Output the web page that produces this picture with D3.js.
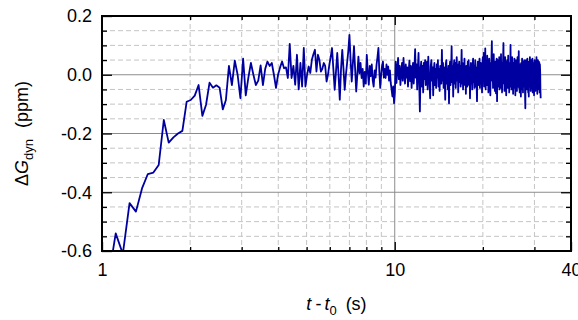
<!DOCTYPE html>
<html>
<head>
<meta charset="utf-8">
<script src="https://cdn.jsdelivr.net/npm/d3@7"></script>
<style>
  body { margin: 0; background: #fff; }
  text { font-family: "Liberation Sans", Arial, sans-serif; }
</style>
</head>
<body>
<script>
// signal: uniformly sampled, first sample time and step (s)
var firstSample = 1.05,
    sampleStep = 0.064;

// delta G dyn (ppm), one value per sample
var deltaG = [
  -0.700,-0.540,-0.610,-0.437,-0.466,-0.387,-0.338,-0.333,-0.307,-0.154,
  -0.231,-0.213,-0.200,-0.191,-0.092,-0.086,-0.071,-0.035,-0.140,-0.103,
  -0.027,-0.044,-0.036,-0.044,-0.118,-0.086, 0.030,-0.035, 0.048, 0.000,
  -0.080, 0.055,-0.070,-0.010, 0.040, 0.000,-0.035,-0.020, 0.032,-0.035,
   0.020, 0.045, 0.030, 0.040, 0.000,-0.045, 0.000, 0.025, 0.045, 0.022,
   0.025,-0.011, 0.105,-0.011, 0.030,-0.034, 0.068,-0.050, 0.040,-0.040,
   0.091,-0.040, 0.000, 0.028, 0.006, 0.051, 0.070, 0.085, 0.011, 0.068,
   0.050, 0.011, 0.020, 0.040, 0.030,-0.023, 0.000, 0.034, 0.060, 0.091,
   0.020,-0.051, 0.010, 0.074, 0.000,-0.085, 0.020, 0.085, 0.020,-0.051,
   0.000, 0.040, 0.080, 0.136, 0.050,-0.023, 0.040, 0.097, 0.020,-0.057,
   0.000, 0.062, 0.005, 0.040,-0.011, 0.020,-0.040, 0.010,-0.030, 0.068,
   0.010,-0.034, 0.030,-0.005, 0.035,-0.020,-0.040, 0.015,-0.010, 0.034,
   0.060, 0.091, 0.010,-0.045, 0.000, 0.030, 0.045,-0.010, 0.020,-0.011,
   0.035, 0.000, 0.028,-0.020, 0.015,-0.028,-0.050,-0.074,-0.040,-0.097,
  -0.060, 0.045,-0.028, 0.020, 0.057,-0.015, 0.030,-0.035, 0.010, 0.040,
  -0.020, 0.057, 0.005,-0.030, 0.035,-0.010, 0.025,-0.040, 0.015, 0.048,
  -0.022, 0.030,-0.045, 0.010, 0.040,-0.030, 0.020, 0.087,-0.010, 0.035,
  -0.050, 0.020, 0.074,-0.030,-0.125, 0.020, 0.045,-0.040, 0.030,-0.060,
   0.040,-0.015, 0.050,-0.035, 0.010, 0.045,-0.050, 0.062, 0.000,-0.030,
  -0.080, 0.030, 0.050,-0.020, 0.025,-0.070, 0.015, 0.040,-0.035, 0.020,
  -0.045, 0.035,-0.010, 0.050,-0.040, 0.020,-0.055, 0.030, 0.010,-0.030,
   0.085,-0.020, 0.040,-0.045, 0.025,-0.010,-0.085, 0.035, 0.050,-0.030,
   0.020,-0.050, 0.030,-0.097, 0.020, 0.045,-0.035, 0.010, 0.097,-0.025,
   0.030,-0.074, 0.025, 0.050,-0.030, 0.040,-0.045, 0.015, 0.060,-0.020,
   0.035,-0.060, 0.020, 0.045,-0.025, 0.030,-0.040, 0.010, 0.085,-0.030,
   0.040,-0.050, 0.025,-0.010, 0.055,-0.035, 0.020,-0.065, 0.030, 0.010,
  -0.040, 0.045,-0.020, 0.050,-0.035, 0.025,-0.080, 0.015, 0.040,-0.030,
   0.020,-0.050, 0.035, 0.055,-0.025, 0.030,-0.045, 0.010, 0.050,-0.040,
   0.025,-0.030,-0.090, 0.020, 0.045,-0.035, 0.030,-0.020, 0.055,-0.045,
   0.015, 0.040,-0.030, 0.025,-0.060, 0.035, 0.060,-0.020, 0.074,-0.040,
   0.030,-0.015, 0.090,-0.050, 0.040, 0.010,-0.035, 0.065,-0.025, 0.045,
  -0.060, 0.030, 0.055,-0.030, 0.020,-0.070, 0.040, 0.010, 0.060, 0.114,
  -0.020, 0.050,-0.045, 0.030, 0.070,-0.035, 0.025,-0.055, 0.045, 0.000,
  -0.063, 0.030, 0.055,-0.090, 0.020, 0.050,-0.040, 0.035,-0.020, 0.060,
  -0.050, 0.025, 0.045,-0.030, 0.070,-0.045, 0.020,-0.060, 0.040, 0.010,
   0.055, 0.108,-0.030, 0.040,-0.055, 0.025, 0.060,-0.035, 0.030,-0.070,
   0.045, 0.000, 0.050,-0.045, 0.020, 0.065,-0.030, 0.035,-0.060, 0.040,
   0.015,-0.040, 0.102,-0.020, 0.045,-0.050, 0.030, 0.060,-0.035, 0.020,
  -0.065, 0.040, 0.010,-0.045, 0.055,-0.025, 0.035,-0.070, 0.025, 0.050,
  -0.030, 0.040,-0.055, 0.020, 0.060,-0.040, 0.030,-0.020, 0.080,-0.045,
   0.025,-0.060, 0.035, 0.010,-0.035,-0.074, 0.040, 0.020,-0.050, 0.055,
  -0.025, 0.030,-0.060, 0.045, 0.005,-0.040, 0.050,-0.030, 0.025,-0.065,
  -0.114, 0.030, 0.050,-0.035, 0.040,-0.050, 0.020, 0.055,-0.040, 0.030,
  -0.060, 0.020,-0.074, 0.045, 0.010,-0.040, 0.060,-0.030, 0.035,-0.055,
   0.025, 0.050,-0.045, 0.030,-0.020, 0.055,-0.060, 0.020, 0.040,-0.035,
   0.015,-0.070, 0.035, 0.050,-0.030, 0.025,-0.055, 0.045, 0.000,-0.045,
   0.060,-0.025, 0.040,-0.065, 0.020, 0.050,-0.040, 0.030,-0.050, 0.045,
  -0.020, 0.040,-0.060, 0.035, 0.010,-0.050,-0.080
];

// ticks and grid
var xLabels = [1, 10, 40],
    xMajor = [10],
    xMinor = [2, 3, 4, 5, 6, 7, 8, 9, 20, 30],
    yLabels = [-0.6, -0.4, -0.2, 0.0, 0.2],
    yMajor = [-0.4, -0.2, 0.0],
    yMinor = [-0.55, -0.5, -0.45, -0.35, -0.3, -0.25, -0.15, -0.1, -0.05, 0.05, 0.1, 0.15];

var width = 578, height = 320,
    plotL = 102, plotR = 571, plotT = 16, plotB = 251;

var svg = d3.select("body").append("svg")
    .attr("width", width)
    .attr("height", height);

var x = d3.scaleLog().domain([1, 40]).range([plotL, plotR]);
var y = d3.scaleLinear().domain([-0.6, 0.2]).range([plotB, plotT]);

// grid
var grid = svg.append("g").attr("class", "grid");
grid.selectAll(".gx").data(xMinor).enter().append("line")
    .attr("x1", function(d) { return x(d); }).attr("x2", function(d) { return x(d); })
    .attr("y1", plotT).attr("y2", plotB)
    .attr("stroke", "#c4c4c4").attr("stroke-dasharray", "5,3");
grid.selectAll(".gy").data(yMinor).enter().append("line")
    .attr("x1", plotL).attr("x2", plotR)
    .attr("y1", function(d) { return y(d); }).attr("y2", function(d) { return y(d); })
    .attr("stroke", "#c4c4c4").attr("stroke-dasharray", "5,3");
grid.selectAll(".gX").data(xMajor).enter().append("line")
    .attr("x1", function(d) { return x(d); }).attr("x2", function(d) { return x(d); })
    .attr("y1", plotT).attr("y2", plotB)
    .attr("stroke", "#8c8c8c");
grid.selectAll(".gY").data(yMajor).enter().append("line")
    .attr("x1", plotL).attr("x2", plotR)
    .attr("y1", function(d) { return y(d); }).attr("y2", function(d) { return y(d); })
    .attr("stroke", "#8c8c8c");

// data line
svg.append("clipPath").attr("id", "plotclip")
  .append("rect").attr("x", plotL).attr("y", plotT)
    .attr("width", plotR - plotL).attr("height", plotB - plotT);

var line = d3.line()
    .x(function(d, i) { return x(firstSample + i * sampleStep); })
    .y(function(d) { return y(d); });

svg.append("path")
    .datum(deltaG)
    .attr("clip-path", "url(#plotclip)")
    .attr("d", line)
    .attr("fill", "none")
    .attr("stroke", "#0000a0")
    .attr("stroke-width", 1.8)
    .attr("stroke-linejoin", "round");

// axes, ticks inside
function styleAxis(g) {
  g.select(".domain").remove();
  g.selectAll(".tick line").attr("stroke", "#000").attr("stroke-width", 1.3);
  g.selectAll("text").attr("fill", "#000").attr("font-size", "18px")
    .attr("font-family", "Liberation Sans, Arial, sans-serif");
}
function fmtY(d) { return d.toFixed(1); }

svg.append("g").attr("transform", "translate(0," + plotB + ")")
    .call(d3.axisBottom(x).tickValues(xMinor).tickSize(-4).tickFormat(""))
    .call(styleAxis);
svg.append("g").attr("transform", "translate(0," + plotB + ")")
    .call(d3.axisBottom(x).tickValues(xLabels).tickSize(-9).tickPadding(12).tickFormat(d3.format("d")))
    .call(styleAxis);
svg.append("g").attr("transform", "translate(0," + plotT + ")")
    .call(d3.axisTop(x).tickValues(xMinor).tickSize(-4).tickFormat(""))
    .call(styleAxis);
svg.append("g").attr("transform", "translate(0," + plotT + ")")
    .call(d3.axisTop(x).tickValues(xMajor).tickSize(-9).tickFormat(""))
    .call(styleAxis);
svg.append("g").attr("transform", "translate(" + plotL + ",0)")
    .call(d3.axisLeft(y).tickValues(yMinor).tickSize(-5).tickFormat(""))
    .call(styleAxis);
svg.append("g").attr("transform", "translate(" + plotL + ",0)")
    .call(d3.axisLeft(y).tickValues(yLabels).tickSize(-10).tickPadding(10).tickFormat(fmtY))
    .call(styleAxis);
svg.append("g").attr("transform", "translate(" + plotR + ",0)")
    .call(d3.axisRight(y).tickValues(yMinor).tickSize(-5).tickFormat(""))
    .call(styleAxis);
svg.append("g").attr("transform", "translate(" + plotR + ",0)")
    .call(d3.axisRight(y).tickValues(yMajor).tickSize(-10).tickFormat(""))
    .call(styleAxis);

// frame
svg.append("rect")
    .attr("x", plotL).attr("y", plotT)
    .attr("width", plotR - plotL).attr("height", plotB - plotT)
    .attr("fill", "none").attr("stroke", "#000").attr("stroke-width", 2);

// axis titles
var xt = svg.append("text")
    .attr("x", (plotL + plotR) / 2).attr("y", 310)
    .attr("text-anchor", "middle").attr("font-size", "18px");
xt.append("tspan").attr("font-style", "italic").text("t");
xt.append("tspan").attr("dx", 4).text("-");
xt.append("tspan").attr("dx", 3).attr("font-style", "italic").text("t");
xt.append("tspan").attr("dy", 5).attr("font-size", "13px").text("0");
xt.append("tspan").attr("dy", -5).attr("dx", 9).text("(s)");

var yt = svg.append("text")
    .attr("transform", "translate(28," + ((plotT + plotB) / 2) + ")rotate(-90)")
    .attr("text-anchor", "middle").attr("font-size", "18px");
yt.append("tspan").text("\u0394");
yt.append("tspan").attr("font-style", "italic").text("G");
yt.append("tspan").attr("dy", 5).attr("font-size", "13px").text("dyn");
yt.append("tspan").attr("dy", -5).attr("dx", 11).text("(ppm)");
</script>
</body>
</html>
